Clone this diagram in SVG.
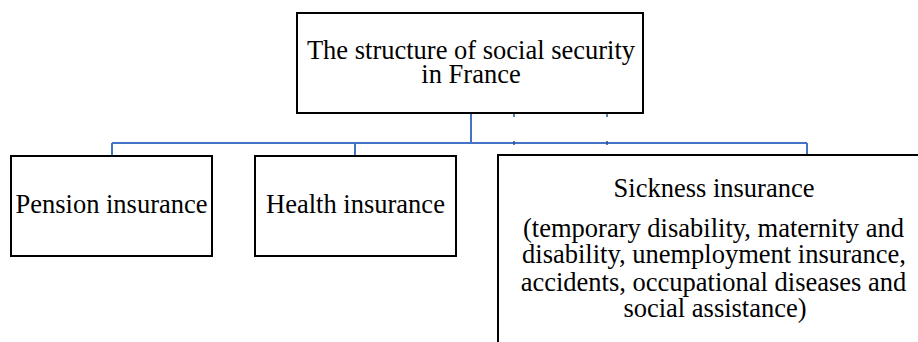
<svg xmlns="http://www.w3.org/2000/svg" width="918" height="342" viewBox="0 0 918 342">
<style>
.box{fill:#ffffff;stroke:#000000;stroke-width:2}
.t{font-family:"Liberation Serif","Times New Roman",serif;font-size:26.5px;fill:#000000;text-anchor:middle}
.c{fill:none;stroke:#4472C4;stroke-width:2}
.tick{fill:none;stroke:#2F528F;stroke-width:1.5}
</style>
<rect width="918" height="342" fill="#ffffff"/>
<g id="connectors">
<path class="c" d="M471 113 V143 M112 143 H807 M112 143 V156 M355 143 V156 M807 143 V155"/>
<path class="tick" d="M514 114 V117 M607 114 V117 M514 141 V145 M607 141 V145"/>
</g>
<g id="node-root">
<rect class="box" x="297" y="13" width="346" height="100"/>
<text class="t" x="471" y="58.5">The structure of social security</text>
<text class="t" x="471" y="83.3">in France</text>
</g>
<g id="node-pension">
<rect class="box" x="11" y="156" width="201" height="100"/>
<text class="t" x="111.5" y="213">Pension insurance</text>
</g>
<g id="node-health">
<rect class="box" x="255" y="156" width="201" height="100"/>
<text class="t" x="355.5" y="213">Health insurance</text>
</g>
<g id="node-sickness">
<rect class="box" x="498" y="155" width="440" height="200"/>
<text class="t" x="714" y="197.3">Sickness insurance</text>
<text class="t" x="713.5" y="236.7">(temporary disability, maternity and</text>
<text class="t" x="714" y="263.3">disability, unemployment insurance,</text>
<text class="t" x="713.5" y="290.7">accidents, occupational diseases and</text>
<text class="t" x="715" y="317.3">social assistance)</text>
</g>
</svg>
